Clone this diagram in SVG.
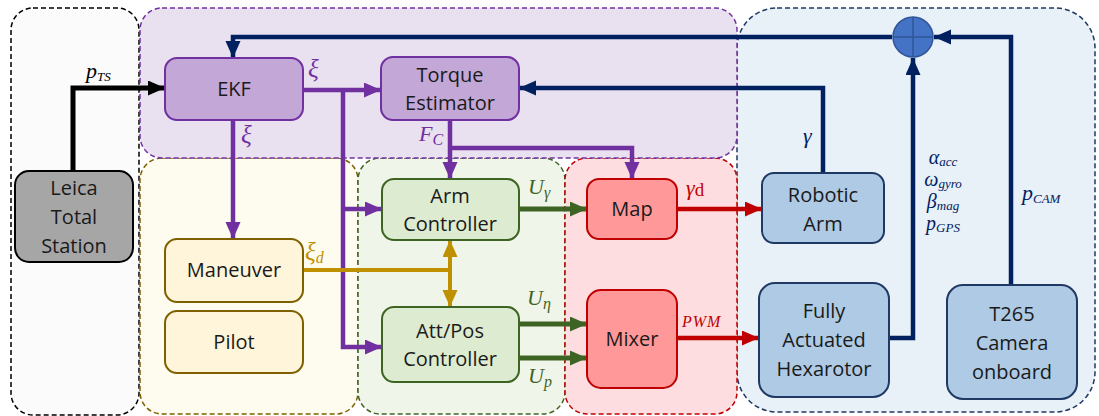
<svg xmlns="http://www.w3.org/2000/svg" width="1099" height="416" viewBox="0 0 1099 416">
<style>
.reg{stroke-width:1.5;stroke-dasharray:5 3}
.nt{font-family:"Open Sans","Noto Sans",sans-serif;font-size:20px;fill:#1a1a1a;text-anchor:middle}
.m{font-family:"Liberation Serif","DejaVu Serif",serif;font-style:italic;font-size:22px}
.sm{font-size:20px}
.s{font-size:13px}
.c{fill:none;stroke-linejoin:miter}
</style>
<defs>
<marker id="aK" markerUnits="userSpaceOnUse" markerWidth="18" markerHeight="16" refX="17" refY="7.5" orient="auto"><path d="M0,0 L17,7.5 L0,15 z" fill="#000"/></marker>
<marker id="aP" markerUnits="userSpaceOnUse" markerWidth="18" markerHeight="16" refX="17" refY="7.5" orient="auto"><path d="M0,0 L17,7.5 L0,15 z" fill="#7030A0"/></marker>
<marker id="aN" markerUnits="userSpaceOnUse" markerWidth="18" markerHeight="16" refX="17" refY="7.5" orient="auto"><path d="M0,0 L17,7.5 L0,15 z" fill="#002060"/></marker>
<marker id="aG" markerUnits="userSpaceOnUse" markerWidth="18" markerHeight="16" refX="17" refY="7.5" orient="auto"><path d="M0,0 L17,7.5 L0,15 z" fill="#3E6424"/></marker>
<marker id="aR" markerUnits="userSpaceOnUse" markerWidth="18" markerHeight="16" refX="17" refY="7.5" orient="auto"><path d="M0,0 L17,7.5 L0,15 z" fill="#C00000"/></marker>
<marker id="aY" markerUnits="userSpaceOnUse" markerWidth="18" markerHeight="16" refX="17" refY="7.5" orient="auto-start-reverse"><path d="M0,0 L17,7.5 L0,15 z" fill="#BF9000"/></marker>
</defs>
<rect width="1099" height="416" fill="#fff"/>
<g id="regions">
<rect class="reg" x="11" y="8" width="128" height="407" rx="22" fill="#FBFBFB" stroke="#000"/>
<rect class="reg" x="737" y="8" width="358" height="404" rx="40" fill="#E8F0F8" stroke="#1F3864"/>
<rect class="reg" x="140" y="158" width="218" height="256" rx="22" fill="#FEFBEF" stroke="#7F6000"/>
<rect class="reg" x="358" y="158" width="207" height="256" rx="22" fill="#F0F5EA" stroke="#3E6424"/>
<rect class="reg" x="565" y="158" width="172" height="256" rx="22" fill="#FDDDE0" stroke="#C00000"/>
<rect class="reg" x="140" y="8" width="597" height="150" rx="22" fill="#E9E0F0" stroke="#7030A0"/>
</g>
<g id="connectors">
<polyline class="c" points="73,171 73,88 165,88" stroke="#000" stroke-width="5" marker-end="url(#aK)"/>
<polyline class="c" points="892,37 233,37 233,58" stroke="#002060" stroke-width="4.5" marker-end="url(#aN)"/>
<polyline class="c" points="1011,285 1011,37 934,37" stroke="#002060" stroke-width="4.5" marker-end="url(#aN)"/>
<polyline class="c" points="889,338 913,338 913,58" stroke="#002060" stroke-width="4.5" marker-end="url(#aN)"/>
<polyline class="c" points="823,173 823,88 519,88" stroke="#002060" stroke-width="4.5" marker-end="url(#aN)"/>
<polyline class="c" points="303,90 381,90" stroke="#7030A0" stroke-width="4.5" marker-end="url(#aP)"/>
<polyline class="c" points="343,90 343,347 382,347" stroke="#7030A0" stroke-width="4.5" marker-end="url(#aP)"/>
<polyline class="c" points="343,209 382,209" stroke="#7030A0" stroke-width="4.5" marker-end="url(#aP)"/>
<polyline class="c" points="233,120 233,239" stroke="#7030A0" stroke-width="4.5" marker-end="url(#aP)"/>
<polyline class="c" points="450,120 450,179" stroke="#7030A0" stroke-width="4.5" marker-end="url(#aP)"/>
<polyline class="c" points="450,148 632,148 632,179" stroke="#7030A0" stroke-width="4.5" marker-end="url(#aP)"/>
<polyline class="c" points="303,270 450,270" stroke="#BF9000" stroke-width="4"/>
<polyline class="c" points="450,240 450,307" stroke="#BF9000" stroke-width="4" marker-start="url(#aY)" marker-end="url(#aY)"/>
<polyline class="c" points="519,209 587,209" stroke="#3E6424" stroke-width="5" marker-end="url(#aG)"/>
<polyline class="c" points="519,324 587,324" stroke="#3E6424" stroke-width="5" marker-end="url(#aG)"/>
<polyline class="c" points="519,358 587,358" stroke="#3E6424" stroke-width="5" marker-end="url(#aG)"/>
<polyline class="c" points="677,209 762,209" stroke="#C00000" stroke-width="4.5" marker-end="url(#aR)"/>
<polyline class="c" points="677,338 759,338" stroke="#C00000" stroke-width="4.5" marker-end="url(#aR)"/>
</g>
<g id="labels">
<text class="m" x="86" y="78" fill="#000">p<tspan class="s" dy="3">TS</tspan></text>
<text class="m" x="308" y="77" fill="#7030A0" style="font-size:25px">ξ</text>
<text class="m" x="241" y="143" fill="#7030A0" style="font-size:25px">ξ</text>
<text class="m" x="419" y="141" fill="#7030A0">F<tspan class="s" dy="4" style="font-size:16px">C</tspan></text>
<text class="m" x="305" y="260" fill="#BF9000" style="font-size:25px">ξ<tspan class="s" dy="3" style="font-size:16px">d</tspan></text>
<text class="m" x="528" y="194" fill="#3E6424">U<tspan class="s" dy="4" style="font-size:16px">γ</tspan></text>
<text class="m" x="527" y="305" fill="#3E6424">U<tspan class="s" dy="4" style="font-size:16px">η</tspan></text>
<text class="m" x="528" y="383" fill="#3E6424">U<tspan class="s" dy="4" style="font-size:16px">p</tspan></text>
<text class="m" x="686" y="195" fill="#C00000">γ<tspan dy="1" style="font-style:normal;font-size:19px">d</tspan></text>
<text class="m" x="682" y="327" fill="#C00000" style="font-size:16px;letter-spacing:1px">PWM</text>
<text class="m" x="803" y="143" fill="#002060">γ</text>
<g fill="#002060" text-anchor="middle">
<text class="m sm" x="943" y="164">α<tspan class="s" dy="2">acc</tspan></text>
<text class="m sm" x="943" y="186">ω<tspan class="s" dy="2">gyro</tspan></text>
<text class="m sm" x="943" y="208">β<tspan class="s" dy="2">mag</tspan></text>
<text class="m sm" x="943" y="230">p<tspan class="s" dy="2">GPS</tspan></text>
</g>
<text class="m" x="1022" y="200" fill="#002060">p<tspan class="s" dy="3">CAM</tspan></text>
</g>
<g id="sum">
<circle cx="913" cy="37" r="20" fill="#4472C4" stroke="#2F5597" stroke-width="1.5"/>
<path d="M893,37 H933 M913,17 V57" stroke="#2F5597" stroke-width="1.5"/>
</g>
<g id="ekf"><rect x="165" y="58" width="138" height="62" rx="12" fill="#C3A7D6" stroke="#7030A0" stroke-width="2"/><text class="nt" x="234" y="96">EKF</text></g>
<g id="torque"><rect x="381" y="57" width="138" height="63" rx="12" fill="#C3A7D6" stroke="#7030A0" stroke-width="2"/><text class="nt" x="450" y="82">Torque</text><text class="nt" x="450" y="110">Estimator</text></g>
<g id="leica"><rect x="15" y="171" width="118" height="91" rx="14" fill="#A6A6A6" stroke="#000" stroke-width="2"/><text class="nt" x="74" y="195">Leica</text><text class="nt" x="74" y="224">Total</text><text class="nt" x="74" y="253">Station</text></g>
<g id="maneuver"><rect x="165" y="239" width="138" height="63" rx="12" fill="#FFF2CC" stroke="#7F6000" stroke-width="2" fill-opacity="0.6"/><text class="nt" x="234" y="277">Maneuver</text></g>
<g id="pilot"><rect x="165" y="311" width="138" height="62" rx="12" fill="#FFF2CC" stroke="#7F6000" stroke-width="2" fill-opacity="0.6"/><text class="nt" x="234" y="349">Pilot</text></g>
<g id="arm-controller"><rect x="382" y="179" width="137" height="61" rx="12" fill="#DDEBD0" stroke="#3E6424" stroke-width="2"/><text class="nt" x="450" y="203">Arm</text><text class="nt" x="450" y="231">Controller</text></g>
<g id="attpos-controller"><rect x="382" y="307" width="137" height="75" rx="12" fill="#DDEBD0" stroke="#3E6424" stroke-width="2"/><text class="nt" x="450" y="338">Att/Pos</text><text class="nt" x="450" y="366">Controller</text></g>
<g id="map"><rect x="587" y="179" width="90" height="60" rx="12" fill="#FF9999" stroke="#C00000" stroke-width="2"/><text class="nt" x="632" y="216">Map</text></g>
<g id="mixer"><rect x="587" y="290" width="90" height="98" rx="14" fill="#FF9999" stroke="#C00000" stroke-width="2"/><text class="nt" x="632" y="346">Mixer</text></g>
<g id="robotic-arm"><rect x="762" y="173" width="122" height="70" rx="12" fill="#AECAE4" stroke="#1F3864" stroke-width="2"/><text class="nt" x="823" y="202">Robotic</text><text class="nt" x="823" y="231">Arm</text></g>
<g id="hexarotor"><rect x="759" y="283" width="130" height="114" rx="16" fill="#AECAE4" stroke="#1F3864" stroke-width="2"/><text class="nt" x="824" y="318">Fully</text><text class="nt" x="824" y="347">Actuated</text><text class="nt" x="824" y="376">Hexarotor</text></g>
<g id="t265"><rect x="947" y="285" width="130" height="114" rx="16" fill="#AECAE4" stroke="#1F3864" stroke-width="2"/><text class="nt" x="1012" y="321">T265</text><text class="nt" x="1012" y="350">Camera</text><text class="nt" x="1012" y="379">onboard</text></g>
</svg>
